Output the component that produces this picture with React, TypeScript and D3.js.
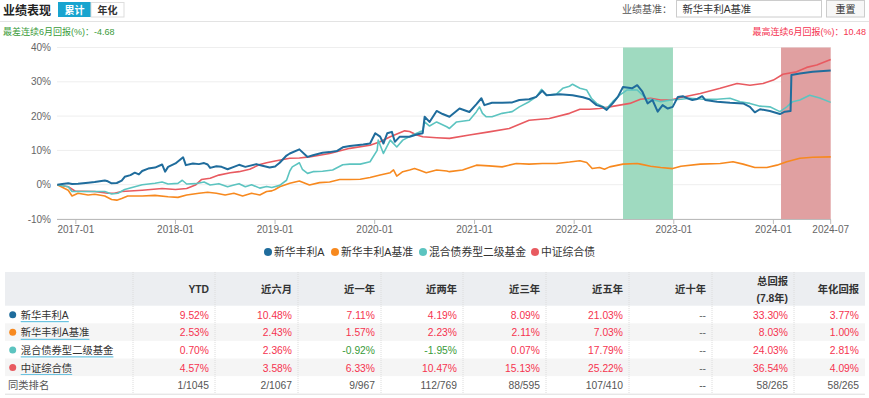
import * as d3 from 'd3';

const FONT = "'Liberation Sans', 'Noto Sans CJK SC', sans-serif";

const seriesNames = ['新华丰利A', '新华丰利A基准', '混合债券型二级基金', '中证综合债'];
const seriesColors = ['#1f6c9c', '#f7891f', '#5cc4c0', '#e85a60'];

// 新华丰利A cumulative return, %
const fundA: [string, number][] = [
  ['2016-10-25', 0], ['2016-11-12', 0.2], ['2016-12-04', 0.4], ['2016-12-18', 0.2], ['2017-01-09', 0.3],
  ['2017-02-15', 0.6], ['2017-03-11', 0.8], ['2017-04-17', 1.2], ['2017-04-28', 1.0], ['2017-05-12', 0.4],
  ['2017-05-31', 0.5], ['2017-06-18', 1.2], ['2017-06-29', 2.3], ['2017-07-20', 2.8], ['2017-08-05', 3.5],
  ['2017-08-20', 3.0], ['2017-09-01', 4.0], ['2017-09-23', 4.7], ['2017-10-18', 5.0], ['2017-11-13', 5.9],
  ['2017-11-24', 3.8], ['2017-12-05', 5.2], ['2018-01-01', 6.2], ['2018-01-29', 8.0], ['2018-02-08', 5.7],
  ['2018-03-06', 6.2], ['2018-03-28', 6.0], ['2018-04-16', 6.3], ['2018-04-29', 5.9], ['2018-05-08', 4.9],
  ['2018-05-31', 5.4], ['2018-06-19', 5.2], ['2018-07-11', 4.5], ['2018-08-03', 5.2], ['2018-08-22', 5.8],
  ['2018-09-14', 5.2], ['2018-10-24', 6.0], ['2018-11-12', 5.6], ['2018-12-12', 5.0], ['2019-01-01', 5.3],
  ['2019-01-18', 6.4], ['2019-02-12', 8.5], ['2019-02-24', 9.1], ['2019-03-31', 10.3], ['2019-04-30', 8.1],
  ['2019-05-20', 8.6], ['2019-06-24', 9.3], ['2019-07-20', 9.5], ['2019-08-15', 9.8], ['2019-09-06', 10.9],
  ['2019-10-02', 11.3], ['2019-11-20', 11.7], ['2019-12-15', 12.0], ['2020-01-03', 15.0], ['2020-01-21', 14.0],
  ['2020-02-02', 12.0], ['2020-02-16', 15.0], ['2020-03-04', 15.4], ['2020-03-15', 12.5], ['2020-04-02', 14.0],
  ['2020-05-08', 14.0], ['2020-06-06', 14.7], ['2020-06-25', 15.0], ['2020-07-02', 19.8], ['2020-07-20', 18.3],
  ['2020-08-15', 21.5], ['2020-09-06', 20.6], ['2020-10-01', 19.8], ['2020-11-07', 22.2], ['2020-12-13', 21.2],
  ['2021-01-08', 23.5], ['2021-01-26', 25.2], ['2021-02-06', 23.2], ['2021-03-06', 23.9], ['2021-04-12', 23.9],
  ['2021-05-19', 24.0], ['2021-06-14', 24.7], ['2021-07-20', 24.9], ['2021-08-15', 25.6], ['2021-09-06', 27.4],
  ['2021-09-22', 26.1], ['2021-11-09', 26.4], ['2021-12-26', 26.1], ['2022-02-02', 25.5], ['2022-02-26', 24.9],
  ['2022-03-24', 23.2], ['2022-04-15', 22.7], ['2022-04-30', 21.8], ['2022-05-22', 23.7], ['2022-06-10', 25.6],
  ['2022-06-29', 28.5], ['2022-08-01', 28.1], ['2022-08-20', 29.0], ['2022-09-08', 27.1], ['2022-09-27', 23.7],
  ['2022-10-15', 24.7], ['2022-11-03', 21.3], ['2022-11-21', 23.2], ['2022-12-10', 22.2], ['2022-12-28', 22.7],
  ['2023-01-16', 25.6], ['2023-02-03', 25.8], ['2023-02-20', 25.2], ['2023-03-10', 24.7], ['2023-03-28', 25.0],
  ['2023-04-15', 25.8], ['2023-04-26', 24.7], ['2023-06-09', 24.2], ['2023-07-26', 23.9], ['2023-09-12', 23.7],
  ['2023-10-07', 22.7], ['2023-10-25', 21.1], ['2023-11-13', 22.0], ['2023-12-19', 21.5], ['2024-01-25', 20.6],
  ['2024-02-12', 21.3], ['2024-03-04', 21.5], ['2024-03-07', 32.0], ['2024-04-07', 32.4], ['2024-05-24', 32.9],
  ['2024-07-29', 33.3],
];

// 新华丰利A基准
const benchmark: [string, number][] = [
  ['2016-10-25', 0], ['2016-12-04', -1.6], ['2016-12-18', -3.3], ['2017-01-09', -2.5], ['2017-02-15', -3.0],
  ['2017-03-11', -2.8], ['2017-04-17', -3.3], ['2017-05-12', -4.3], ['2017-05-31', -4.5], ['2017-06-18', -4.0],
  ['2017-07-10', -3.3], ['2017-09-01', -3.3], ['2017-10-18', -3.1], ['2017-12-05', -3.5], ['2018-01-10', -3.7],
  ['2018-02-11', -3.0], ['2018-03-28', -2.5], ['2018-04-29', -2.2], ['2018-05-31', -2.5], ['2018-07-02', -3.0],
  ['2018-08-03', -2.5], ['2018-09-04', -3.3], ['2018-10-07', -2.5], ['2018-11-06', -3.0], ['2018-12-01', -2.0],
  ['2018-12-20', -1.8], ['2019-01-01', -1.4], ['2019-01-18', -0.6], ['2019-02-24', 0.4], ['2019-03-31', 1.1],
  ['2019-05-07', -0.1], ['2019-06-13', 0.6], ['2019-07-20', 0.8], ['2019-08-26', 1.5], ['2019-10-02', 1.5],
  ['2019-11-09', 1.6], ['2019-12-15', 2.1], ['2020-01-21', 2.8], ['2020-02-27', 3.5], ['2020-03-10', 4.3],
  ['2020-03-22', 2.5], ['2020-04-13', 3.8], ['2020-05-08', 4.3], ['2020-05-26', 4.7], ['2020-06-14', 4.2],
  ['2020-07-08', 3.5], ['2020-08-15', 4.3], ['2020-09-21', 4.0], ['2020-10-01', 3.8], ['2020-11-18', 4.3],
  ['2021-01-08', 5.7], ['2021-02-23', 5.5], ['2021-04-12', 5.2], ['2021-06-03', 6.2], ['2021-07-20', 6.0],
  ['2021-09-06', 6.2], ['2021-10-28', 6.2], ['2021-12-15', 6.6], ['2022-01-22', 7.0], ['2022-02-16', 6.5],
  ['2022-03-08', 4.7], ['2022-04-04', 5.0], ['2022-04-22', 4.5], ['2022-05-11', 5.2], ['2022-06-29', 6.0],
  ['2022-08-20', 6.2], ['2022-09-01', 6.0], ['2022-10-08', 5.4], ['2022-11-14', 5.0], ['2022-12-28', 4.7],
  ['2023-01-27', 5.4], ['2023-04-08', 6.0], ['2023-06-20', 6.2], ['2023-08-06', 6.7], ['2023-09-12', 6.0],
  ['2023-10-25', 5.0], ['2023-12-08', 5.0], ['2024-01-14', 5.7], ['2024-02-19', 6.7], ['2024-04-07', 7.7],
  ['2024-05-24', 8.0], ['2024-07-29', 8.1],
];

// 混合债券型二级基金
const peerAvg: [string, number][] = [
  ['2016-10-25', 0], ['2016-12-04', -0.6], ['2016-12-18', -2.0], ['2017-01-24', -2.0], ['2017-03-11', -2.0],
  ['2017-04-17', -2.0], ['2017-05-12', -2.7], ['2017-06-04', -2.5], ['2017-06-29', -1.4], ['2017-08-05', -0.6],
  ['2017-09-01', 0], ['2017-10-18', 0.4], ['2017-11-13', 0.8], ['2017-12-05', 0.2], ['2018-01-10', 0.4],
  ['2018-01-26', 1.3], ['2018-02-11', 0.2], ['2018-03-15', 0.3], ['2018-04-16', 0.8], ['2018-05-08', -0.1],
  ['2018-06-09', 0.3], ['2018-07-11', -0.6], ['2018-08-03', -0.1], ['2018-08-22', 0.3], ['2018-09-14', -0.6],
  ['2018-10-07', 0], ['2018-11-06', -1.0], ['2018-12-01', -0.5], ['2018-12-20', -0.8], ['2019-01-18', -0.2],
  ['2019-02-12', 1.3], ['2019-02-24', 4.0], ['2019-03-05', 5.2], ['2019-03-31', 6.4], ['2019-04-11', 4.5],
  ['2019-04-30', 3.3], ['2019-05-20', 3.8], ['2019-06-24', 3.9], ['2019-07-31', 4.3], ['2019-09-06', 5.8],
  ['2019-10-02', 6.0], ['2019-11-09', 6.0], ['2019-12-15', 6.7], ['2020-01-10', 10.0], ['2020-01-14', 13.0],
  ['2020-02-02', 9.1], ['2020-02-27', 13.0], ['2020-03-22', 11.0], ['2020-04-13', 13.0], ['2020-05-19', 14.5],
  ['2020-06-14', 15.4], ['2020-06-25', 15.7], ['2020-07-02', 18.3], ['2020-07-20', 17.1], ['2020-08-15', 18.3],
  ['2020-09-21', 16.9], ['2020-10-01', 16.4], ['2020-10-27', 18.3], ['2020-12-13', 18.8], ['2021-01-08', 21.3],
  ['2021-01-19', 22.7], ['2021-01-30', 20.8], ['2021-02-13', 19.8], ['2021-03-06', 19.8], ['2021-04-12', 20.8],
  ['2021-05-19', 21.3], ['2021-06-14', 22.7], ['2021-07-20', 24.2], ['2021-08-15', 25.6], ['2021-09-03', 27.8],
  ['2021-09-22', 26.1], ['2021-10-28', 26.4], ['2021-11-20', 28.1], ['2021-12-15', 28.7], ['2021-12-26', 29.3],
  ['2022-01-22', 28.1], ['2022-02-16', 27.6], ['2022-03-05', 25.2], ['2022-03-24', 23.7], ['2022-04-30', 22.2],
  ['2022-05-22', 24.2], ['2022-06-17', 26.1], ['2022-07-13', 27.6], ['2022-08-20', 27.6], ['2022-09-27', 24.7],
  ['2022-10-08', 25.0], ['2022-11-14', 24.2], ['2022-12-21', 24.7], ['2023-01-27', 24.9], ['2023-03-02', 25.2],
  ['2023-04-18', 24.9], ['2023-06-09', 24.9], ['2023-07-26', 25.2], ['2023-09-01', 24.2], ['2023-10-07', 23.7],
  ['2023-11-13', 22.9], ['2023-12-19', 22.7], ['2024-01-25', 21.3], ['2024-02-19', 22.7], ['2024-03-12', 24.2],
  ['2024-04-07', 24.7], ['2024-05-13', 26.1], ['2024-06-19', 25.3], ['2024-07-29', 24.0],
];

// 中证综合债
const bondIndex: [string, number][] = [
  ['2016-10-25', 0], ['2016-12-04', -0.6], ['2016-12-30', -1.9], ['2017-01-24', -1.9], ['2017-03-11', -2.0],
  ['2017-04-28', -2.5], ['2017-05-22', -2.5], ['2017-06-18', -2.0], ['2017-09-01', -1.6], ['2017-11-13', -1.1],
  ['2018-01-01', -1.4], ['2018-02-11', -1.1], ['2018-03-15', -0.1], ['2018-04-06', 1.5], ['2018-05-08', 1.9],
  ['2018-06-09', 2.8], ['2018-07-21', 3.5], ['2018-08-22', 3.8], ['2018-09-30', 4.5], ['2018-11-06', 5.9],
  ['2018-12-01', 6.4], ['2019-01-01', 6.9], ['2019-02-24', 7.7], ['2019-03-31', 7.8], ['2019-05-07', 8.1],
  ['2019-07-20', 9.1], ['2019-10-02', 10.6], ['2019-12-15', 11.5], ['2020-01-21', 12.5], ['2020-02-27', 14.0],
  ['2020-04-20', 15.7], ['2020-05-08', 15.5], ['2020-06-03', 14.5], ['2020-06-25', 14.0], ['2020-08-15', 13.7],
  ['2020-10-01', 13.5], ['2020-12-13', 14.5], ['2021-02-23', 15.4], ['2021-05-08', 16.4], ['2021-07-20', 18.8],
  ['2021-10-02', 19.3], ['2021-12-15', 20.8], ['2022-01-22', 22.0], ['2022-02-26', 22.0], ['2022-04-04', 22.2],
  ['2022-05-11', 22.7], ['2022-06-17', 23.2], ['2022-07-24', 23.7], ['2022-09-01', 24.9], ['2022-10-08', 25.2],
  ['2022-11-14', 24.7], ['2022-12-21', 24.7], ['2023-01-27', 25.4], ['2023-04-08', 26.6], ['2023-06-20', 28.1],
  ['2023-08-21', 29.5], ['2023-10-07', 29.0], ['2023-11-24', 29.5], ['2024-01-01', 30.5], ['2024-02-05', 32.2],
  ['2024-03-26', 32.9], ['2024-05-02', 34.2], ['2024-06-08', 34.9], ['2024-07-29', 36.5],
];

const allSeries = [fundA, benchmark, peerAvg, bondIndex];

const startDate = '2016-10-25';
const endDate = '2024-07-29';
const worstBand = ['2022-06-29', '2022-12-29'];
const bestBand = ['2024-01-29', '2024-07-29'];
const yTicks = [-10, 0, 10, 20, 30, 40];

// table
const tableHeads = ['YTD', '近六月', '近一年', '近两年', '近三年', '近五年', '近十年', '总回报', '年化回报'];
const tableRows = ['新华丰利A', '新华丰利A基准', '混合债券型二级基金', '中证综合债'];
const tableValues = [
  ['9.52%', '10.48%', '7.11%', '4.19%', '8.09%', '21.03%', '--', '33.30%', '3.77%'],
  ['2.53%', '2.43%', '1.57%', '2.23%', '2.11%', '7.03%', '--', '8.03%', '1.00%'],
  ['0.70%', '2.36%', '-0.92%', '-1.95%', '0.07%', '17.79%', '--', '24.03%', '2.81%'],
  ['4.57%', '3.58%', '6.33%', '10.47%', '15.13%', '25.22%', '--', '36.54%', '4.09%'],
];
const rankValues = ['1/1045', '2/1067', '9/967', '112/769', '88/595', '107/410', '--', '58/265', '58/265'];

const parse = d3.timeParse('%Y-%m-%d');

function valueColor(s: string) {
  if (s === '--') return '#666';
  return s.startsWith('-') ? '#3a9b3a' : '#f5334f';
}

export default function App() {
  const x = d3.scaleTime()
    .domain([parse(startDate)!, parse(endDate)!])
    .range([57.3, 830.7]);
  const y = d3.scaleLinear().domain([-10, 40]).range([219, 47.5]);

  const line = d3.line<[string, number]>()
    .x(d => x(parse(d[0])!))
    .y(d => y(d[1]));

  const yearTicks = d3.timeYear.range(parse('2017-01-01')!, parse('2024-02-01')!);
  const xTicks = [...yearTicks, parse(endDate)!];
  const fmt = d3.timeFormat('%Y-%m');

  const colEdges = [5, 133, 215, 298, 381, 463, 546, 629, 712, 794, 865];
  const tableTop = 272;
  const headBottom = 305.7;
  const rowH = 17.6;
  const fs = 10.3;

  const legendX = [268, 335, 423, 535];

  return (
    <svg width={869} height={398} style={{ position: 'absolute', left: 0, top: 0, background: '#fff' }} fontFamily={FONT}>
      {/* header */}
      <text x={3} y={15} fontSize={12} fontWeight="bold" fill="#222">业绩表现</text>
      <rect x={58} y={2} width={33} height={15} fill="#18a4cf" />
      <text x={74.5} y={13.5} fontSize={10} fontWeight="bold" fill="#fff" textAnchor="middle">累计</text>
      <rect x={91} y={2.5} width={33} height={14.5} fill="#fff" stroke="#ddd" />
      <text x={107.5} y={13.5} fontSize={10} fontWeight="bold" fill="#333" textAnchor="middle">年化</text>

      <text x={672} y={13} fontSize={10} fill="#555" textAnchor="end">业绩基准：</text>
      <rect x={676.5} y={0.5} width={145} height={16.5} fill="#fff" stroke="#ccc" />
      <text x={682.5} y={12.5} fontSize={fs} fill="#333">新华丰利A基准</text>
      <rect x={826.5} y={0.5} width={38} height={16.5} fill="#f7f7f7" stroke="#ccc" />
      <text x={845.5} y={12.5} fontSize={10} fill="#333" textAnchor="middle">重置</text>
      <line x1={0} x2={869} y1={21.5} y2={21.5} stroke="#e3e3e3" />

      <text x={3} y={35} fontSize={9} fill="#3a9b3a">最差连续6月回报(%)：-4.68</text>
      <text x={866} y={35} fontSize={9} fill="#f5334f" textAnchor="end">最高连续6月回报(%)：10.48</text>

      {/* grid */}
      {yTicks.map(t => (
        <g key={t}>
          <line x1={57} x2={831} y1={y(t)} y2={y(t)} stroke="#eeeeee" />
          <text x={51} y={y(t) + 3.5} fontSize={10} fill="#666" textAnchor="end">{t}%</text>
        </g>
      ))}

      {/* bands */}
      <rect x={x(parse(worstBand[0])!)} y={y(40)} width={x(parse(worstBand[1])!) - x(parse(worstBand[0])!)} height={y(-10) - y(40)} fill="#9fdac0" />
      <rect x={x(parse(bestBand[0])!)} y={y(40)} width={x(parse(bestBand[1])!) - x(parse(bestBand[0])!)} height={y(-10) - y(40)} fill="#e0a0a1" />

      {/* x axis */}
      <line x1={57} x2={831} y1={219.5} y2={219.5} stroke="#bbb" />
      {xTicks.map((d, i) => (
        <g key={i}>
          <line x1={x(d)} x2={x(d)} y1={219.5} y2={224} stroke="#bbb" />
          <text x={x(d)} y={233} fontSize={10} fill="#666" textAnchor="middle">{fmt(d)}</text>
        </g>
      ))}

      {/* lines */}
      {[3, 1, 2, 0].map(i => (
        <path key={i} d={line(allSeries[i]) || ''} fill="none" stroke={seriesColors[i]}
          strokeWidth={i === 0 ? 2 : 1.6} strokeLinejoin="round" />
      ))}

      {/* legend */}
      {seriesNames.map((n, i) => (
        <g key={n}>
          <circle cx={legendX[i]} cy={252} r={4} fill={seriesColors[i]} />
          <text x={legendX[i] + 6} y={256} fontSize={10.8} fill="#333">{n}</text>
        </g>
      ))}

      {/* table */}
      <rect x={colEdges[0]} y={tableTop} width={colEdges[10] - colEdges[0]} height={headBottom - tableTop} fill="#eceef1" />
      {[1, 3].map(r => (
        <rect key={r} x={colEdges[0]} y={headBottom + r * rowH} width={colEdges[10] - colEdges[0]} height={rowH} fill="#f5f5f5" />
      ))}
      {colEdges.slice(1, 10).map((cx, i) => (
        <line key={i} x1={cx} x2={cx} y1={tableTop} y2={headBottom + 5 * rowH} stroke="#dcdcdc" strokeDasharray="1,1" />
      ))}
      <line x1={colEdges[0]} x2={colEdges[10]} y1={headBottom + 5 * rowH + 0.5} y2={headBottom + 5 * rowH + 0.5} stroke="#ddd" />

      {tableHeads.map((h, i) => {
        const rx = colEdges[i + 2] - 6;
        if (h === '总回报') {
          return (
            <g key={h}>
              <text x={rx} y={284.5} fontSize={fs} fontWeight="bold" fill="#333" textAnchor="end">总回报</text>
              <text x={rx} y={301.5} fontSize={fs} fontWeight="bold" fill="#333" textAnchor="end">(7.8年)</text>
            </g>
          );
        }
        return <text key={h} x={rx} y={292.5} fontSize={fs} fontWeight="bold" fill="#333" textAnchor="end">{h}</text>;
      })}

      {tableRows.map((name, r) => {
        const base = headBottom + r * rowH + 13;
        const w = name.replace(/[A-Za-z]/g, '').length * fs + (name.match(/[A-Za-z]/g) || []).length * 6.9;
        return (
          <g key={name}>
            <circle cx={12.7} cy={base - 4} r={3.5} fill={seriesColors[r]} />
            <text x={20.7} y={base} fontSize={fs} fill="#333">{name}</text>
            <line x1={20.7} x2={20.7 + w} y1={base + 3} y2={base + 3} stroke="#6cc3e0" strokeWidth={1.2} />
            {tableValues[r].map((v, i) => (
              <text key={i} x={colEdges[i + 2] - 6} y={base} fontSize={fs} fill={valueColor(v)} textAnchor="end">{v}</text>
            ))}
          </g>
        );
      })}
      <g>
        <text x={8} y={headBottom + 4 * rowH + 13} fontSize={fs} fill="#555">同类排名</text>
        {rankValues.map((v, i) => (
          <text key={i} x={colEdges[i + 2] - 6} y={headBottom + 4 * rowH + 13} fontSize={fs} fill="#555" textAnchor="end">{v}</text>
        ))}
      </g>
    </svg>
  );
}
